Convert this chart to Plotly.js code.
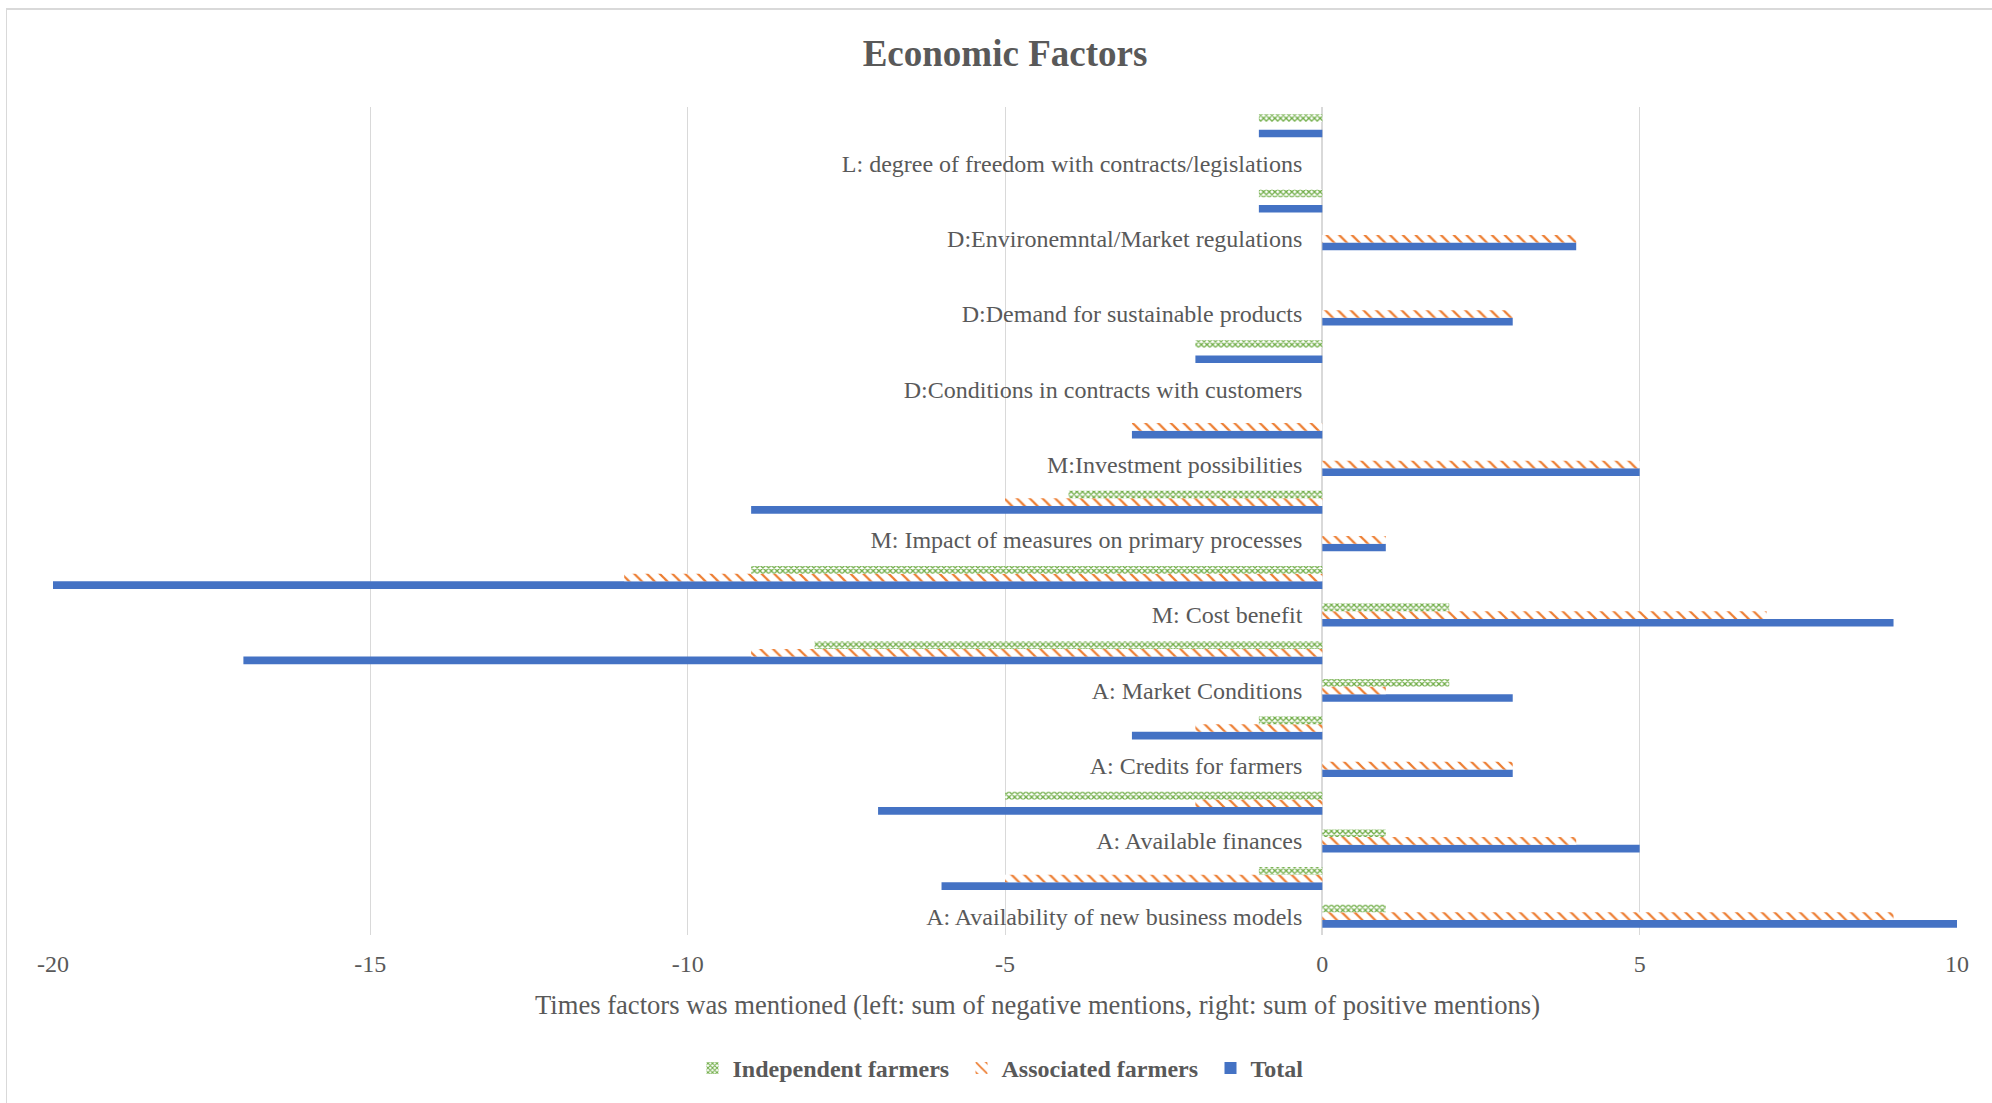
<!DOCTYPE html>
<html>
<head>
<meta charset="utf-8">
<script src="https://cdn.plot.ly/plotly-3.0.1.min.js"></script>
<style>
  html, body { margin: 0; padding: 0; background: #ffffff; }
  #chart { position: absolute; left: 0; top: 0; width: 1992px; height: 1103px; }
  #frame { position: absolute; left: 6px; top: 8px; width: 2100px; height: 1200px;
           border-top: 2px solid #d9d9d9; border-left: 1.5px solid #d9d9d9; pointer-events: none; }
</style>
</head>
<body>
<div id="chart"></div>
<div id="frame"></div>
<script>
// Factors, bottom to top
const factors = [
  "A: Availability of new business models",
  "A: Available finances",
  "A: Credits for farmers",
  "A: Market Conditions",
  "M: Cost benefit",
  "M: Impact of measures on primary processes",
  "M:Investment possibilities",
  "D:Conditions in contracts with customers",
  "D:Demand for sustainable products",
  "D:Environemntal/Market regulations",
  "L: degree of freedom with contracts/legislations"
];

// Positive mentions per factor
const independentPos = [1, 1, 0, 2, 2, 0, 0, 0, 0, 0, 0];
const associatedPos  = [9, 4, 3, 1, 7, 1, 5, 0, 3, 4, 0];
const totalPos       = [10, 5, 3, 3, 9, 1, 5, 0, 3, 4, 0];

// Negative mentions per factor
const independentNeg = [-1, -5, -1, -8, -9, -4, 0, -2, 0, -1, -1];
const associatedNeg  = [-5, -2, -2, -9, -11, -5, -3, 0, 0, 0, 0];
const totalNeg       = [-6, -7, -3, -17, -20, -9, -3, -2, 0, -1, -1];

const seriesNames = ["Independent farmers", "Associated farmers", "Total"];
const xTicks = [-20, -15, -10, -5, 0, 5, 10];
const chartTitle = "Economic Factors";
const xAxisTitle = "Times factors was mentioned (left: sum of negative mentions, right: sum of positive mentions)";

// Build rows: each factor has a positive row (labelled) followed by a negative row
const rows = [];
const negSuffix = " \u2013 negative";
factors.forEach(f => { rows.push(f); rows.push(f + negSuffix); });
function interleave(pos, neg) {
  const out = [];
  pos.forEach((v, i) => { out.push(v); out.push(neg[i]); });
  return out;
}

const FONT = "'Liberation Serif', 'Times New Roman', serif";
const TXT = "#595959";

const traces = [
  {
    type: "bar", orientation: "h", name: seriesNames[2],
    y: rows, x: interleave(totalPos, totalNeg),
    marker: { color: "#4472C4", line: { width: 0 } },
    legendwidth: 62,
    hoverinfo: "x+name"
  },
  {
    type: "bar", orientation: "h", name: seriesNames[1],
    y: rows, x: interleave(associatedPos, associatedNeg),
    marker: { color: "#ED7D31", line: { width: 0 },
      pattern: { shape: "\\", fgcolor: "#ED7D31", bgcolor: "#ffffff", size: 9, solidity: 0.25 } },
    legendwidth: 204,
    hoverinfo: "x+name"
  },
  {
    type: "bar", orientation: "h", name: seriesNames[0],
    y: rows, x: interleave(independentPos, independentNeg),
    marker: { color: "#70AD47", line: { width: 0 },
      pattern: { shape: "x", fgcolor: "#70AD47", bgcolor: "#ffffff", size: 4, solidity: 0.55 } },
    legendwidth: 224,
    hoverinfo: "x+name"
  }
];

const layout = {
  width: 1992, height: 1103,
  paper_bgcolor: "rgba(0,0,0,0)", plot_bgcolor: "rgba(0,0,0,0)",
  margin: { l: 53, r: 35, t: 107, b: 166, pad: 0 },
  font: { family: FONT, color: TXT, size: 24 },
  title: {
    text: chartTitle,
    font: { family: FONT, size: 37, color: TXT, weight: "bold" },
    x: 0.5, xref: "paper", xanchor: "center",
    y: 1 - 53 / 1103, yref: "container", yanchor: "middle"
  },
  barmode: "group", bargap: 0.39, bargroupgap: 0,
  showlegend: true,
  legend: {
    orientation: "h", x: 0.5, xanchor: "center", y: -0.161, yanchor: "middle",
    traceorder: "reversed",
    font: { family: FONT, size: 24, color: TXT, weight: "bold" },
    bgcolor: "rgba(0,0,0,0)"
  },
  annotations: [{
    text: xAxisTitle, showarrow: false,
    xref: "paper", yref: "paper", x: 0.5173, y: -0.0849,
    xanchor: "center", yanchor: "middle",
    font: { family: FONT, size: 26.6, color: TXT }
  }],
  xaxis: {
    range: [-20, 10], tickmode: "array", tickvals: xTicks, ticktext: xTicks.map(String),
    showgrid: true, gridcolor: "#d9d9d9", gridwidth: 1.4,
    zeroline: true, zerolinecolor: "#d9d9d9", zerolinewidth: 2,
    showline: false, ticks: "", ticklabelstandoff: 12,
    tickfont: { family: FONT, size: 24, color: TXT },
    automargin: false
  },
  yaxis: {
    type: "category", categoryorder: "array", categoryarray: rows,
    anchor: "free", position: 20 / 30, side: "left",
    tickmode: "array", tickvals: factors, ticktext: factors,
    showgrid: false, zeroline: false, showline: false, ticks: "",
    ticklabelstandoff: 20,
    tickfont: { family: FONT, size: 24, color: TXT },
    automargin: false
  }
};

Plotly.newPlot("chart", traces, layout, { displayModeBar: false, staticPlot: false });
</script>
</body>
</html>
